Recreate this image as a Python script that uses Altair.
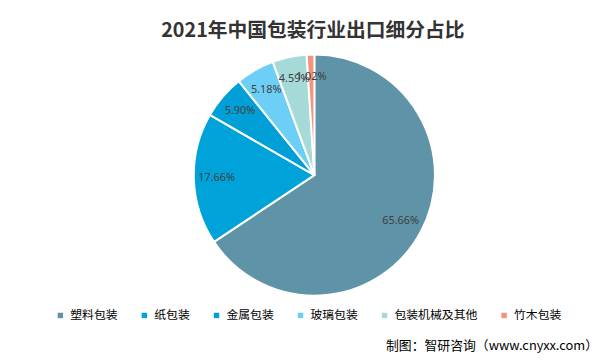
import altair as alt
import pandas as pd

categories = ["塑料包装", "纸包装", "金属包装", "玻璃包装", "包装机械及其他", "竹木包装"]
values = [65.66, 17.66, 5.90, 5.18, 4.59, 1.02]
labels = ["65.66%", "17.66%", "5.90%", "5.18%", "4.59%", "1.02%"]
colors = ["#5E93A8", "#00A2DA", "#009FD7", "#6DCFF6", "#A6DAD8", "#F4937A"]

title_text = "2021年中国包装行业出口细分占比"
source_text = ["制图：智研咨询（www.cnyxx.com）"]

df = pd.DataFrame({
    "category": categories,
    "value": values,
    "label": labels,
    "order": list(range(len(categories))),
})

CX, CY = 310, 127

base = alt.Chart(df).encode(
    theta=alt.Theta("value:Q", stack=True),
    order=alt.Order("order:Q"),
)

pie = base.mark_arc(outerRadius=122, stroke="white", strokeWidth=2).encode(
    x=alt.value(CX),
    y=alt.value(CY),
    color=alt.Color(
        "category:N",
        scale=alt.Scale(domain=categories, range=colors),
        legend=alt.Legend(
            title=None,
            orient="none",
            direction="horizontal",
            legendX=47,
            legendY=263,
            symbolType="square",
            symbolSize=30,
            symbolStrokeWidth=0,
            labelFont="Noto Sans CJK SC",
            labelFontSize=12,
            labelColor="#000000",
            labelOffset=4,
            columnPadding=20,
        ),
    ),
)

text = base.mark_text(radius=99, fontSize=11, color="#404040", font="Noto Sans").encode(
    x=alt.value(CX),
    y=alt.value(CY),
    text="label:N",
)

src = alt.Chart(pd.DataFrame({"t": source_text})).mark_text(
    align="right", baseline="middle", fontSize=13, font="Noto Sans CJK SC", color="#000000"
).encode(
    x=alt.value(597),
    y=alt.value(300),
    text="t:N",
)

chart = alt.layer(pie, text, src).properties(
    width=597,
    height=312,
    padding={"left": 0, "top": 40, "right": 0, "bottom": 0},
    autosize=alt.AutoSizeParams(type="none"),
    title=alt.TitleParams(
        title_text,
        anchor="middle",
        fontSize=20,
        font="Noto Sans CJK SC",
        fontWeight="bold",
        color="#333333",
        dx=10,
        offset=9,
    ),
).configure_view(stroke=None)

chart.save("out.html", embed_options={"renderer": "svg", "actions": False})
